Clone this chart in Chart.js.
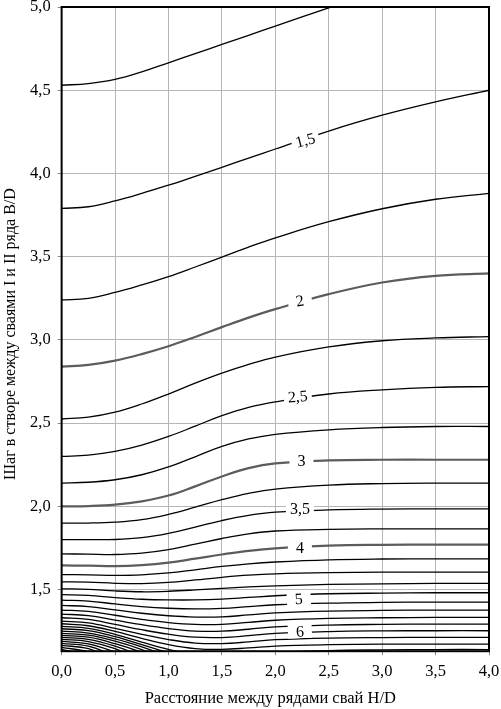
<!DOCTYPE html>
<html><head><meta charset="utf-8">
<script src="https://cdn.jsdelivr.net/npm/chart.js@4/dist/chart.umd.min.js"></script>
<style>html,body{margin:0;padding:0;background:#fff;}canvas{display:block;}</style>
</head><body>
<canvas id="c" width="501" height="709"></canvas>
<script>
// ---- data ----
const xGrid = [0, 0.25, 0.5, 0.75, 1, 1.25, 1.5, 1.75, 2, 2.5, 3, 3.5, 4];
const xTicks = [0, 0.5, 1, 1.5, 2, 2.5, 3, 3.5, 4];
const yTicks = [1.5, 2, 2.5, 3, 3.5, 4, 4.5, 5];

const c125 = [4.53, 4.54, 4.565, 4.61, 4.665, 4.72, 4.775, 4.83, 4.885, 4.995, 5.10];
const c150 = [3.79, 3.80, 3.835, 3.88, 3.93, 3.983, 4.037, 4.092, 4.147, 4.255, 4.35, 4.43, 4.50];
const c175 = [3.24, 3.25, 3.285, 3.33, 3.38, 3.438, 3.498, 3.558, 3.613, 3.71, 3.788, 3.845, 3.88];
const c200 = [2.84, 2.85, 2.876, 2.915, 2.962, 3.018, 3.077, 3.134, 3.185, 3.275, 3.345, 3.385, 3.40];
const c225 = [2.525, 2.536, 2.566, 2.615, 2.675, 2.74, 2.80, 2.853, 2.897, 2.958, 2.995, 3.012, 3.02];
const c250 = [2.30, 2.308, 2.33, 2.368, 2.42, 2.482, 2.545, 2.595, 2.628, 2.675, 2.70, 2.715, 2.72];
const c275 = [2.14, 2.145, 2.16, 2.19, 2.237, 2.298, 2.36, 2.405, 2.433, 2.46, 2.474, 2.48, 2.48];
const c300 = [2.00, 2.002, 2.01, 2.03, 2.065, 2.12, 2.18, 2.23, 2.258, 2.276, 2.28, 2.28, 2.28];
const c325 = [1.90, 1.90, 1.905, 1.92, 1.952, 1.995, 2.04, 2.078, 2.104, 2.128, 2.137, 2.14, 2.14];
const c350 = [1.80, 1.80, 1.801, 1.812, 1.838, 1.876, 1.915, 1.946, 1.965, 1.979, 1.984, 1.985, 1.985];
const c375 = [1.715, 1.713, 1.711, 1.719, 1.74, 1.773, 1.807, 1.835, 1.852, 1.862, 1.865, 1.865, 1.865];
const c400 = [1.645, 1.644, 1.641, 1.647, 1.662, 1.686, 1.711, 1.733, 1.748, 1.764, 1.769, 1.770, 1.770];
const c425 = [1.590, 1.589, 1.586, 1.589, 1.600, 1.619, 1.639, 1.655, 1.666, 1.679, 1.684, 1.685, 1.685];
const c450 = [1.547, 1.545, 1.538, 1.536, 1.543, 1.558, 1.574, 1.587, 1.595, 1.602, 1.605, 1.605, 1.605];
const c475 = [1.505, 1.502, 1.492, 1.487, 1.490, 1.498, 1.508, 1.516, 1.522, 1.531, 1.535, 1.537, 1.537];
const c500 = [1.470, 1.465, 1.452, 1.442, 1.438, 1.438, 1.443, 1.453, 1.463, 1.475, 1.479, 1.481, 1.481];
const c525 = [1.437, 1.431, 1.414, 1.398, 1.388, 1.384, 1.387, 1.398, 1.409, 1.419, 1.423, 1.425, 1.425];
const c550 = [1.405, 1.398, 1.378, 1.358, 1.343, 1.335, 1.336, 1.348, 1.360, 1.371, 1.375, 1.377, 1.377];
const c575 = [1.377, 1.369, 1.346, 1.321, 1.302, 1.291, 1.291, 1.303, 1.316, 1.327, 1.331, 1.333, 1.333];
const c600 = [1.353, 1.344, 1.317, 1.289, 1.266, 1.251, 1.250, 1.262, 1.276, 1.287, 1.291, 1.293, 1.293];
const c625 = [1.331, 1.321, 1.291, 1.259, 1.232, 1.214, 1.212, 1.223, 1.237, 1.248, 1.252, 1.253, 1.253];
const c650 = [1.311, 1.300, 1.267, 1.231, 1.200, 1.179, 1.176, 1.186, 1.199, 1.209, 1.212, 1.213, 1.213];
const c675 = [1.295, 1.283, 1.249, 1.207, 1.170, 1.146, 1.141, 1.150, 1.161, 1.169, 1.172, 1.173, 1.173];
const c700 = [1.279, 1.267, 1.231, 1.185, 1.141, 1.112, 1.106, 1.114, 1.124, 1.134, 1.138, 1.140, 1.140];
const c725 = [1.265, 1.253, 1.217, 1.170, 1.120, 1.070];
const c750 = [1.250, 1.239, 1.204, 1.156, 1.098, 1.040];
const c775 = [1.237, 1.226, 1.190, 1.140, 1.075];
const c800 = [1.225, 1.214, 1.175, 1.122, 1.050];
const c825 = [1.213, 1.201, 1.160, 1.100, 1.030];
const c850 = [1.201, 1.188, 1.145, 1.070];
const c875 = [1.189, 1.174, 1.124, 1.050];
const c900 = [1.177, 1.160, 1.100];
const c925 = [1.165, 1.145, 1.080];
const c950 = [1.153, 1.125, 1.050];
const c975 = [1.141, 1.105, 1.030];

const contourLines = [c125, c150, c175, c200, c225, c250, c275, c300, c325, c350, c375, c400,
  c425, c450, c475, c500, c525, c550, c575, c600, c625, c650, c675, c700,
  c725, c750, c775, c800, c825, c850, c875, c900, c925, c950, c975];
const boldLines = [c200, c300, c400];

const labelText = ['1,5', '2', '2,5', '3', '3,5', '4', '5', '6'];
const labelX = [2.28, 2.23, 2.21, 2.245, 2.23, 2.23, 2.22, 2.23];
const labelY = [4.20, 3.235, 2.66, 2.275, 1.983, 1.752, 1.445, 1.25];
const labelAngle = [-15, -9, -4, 0, 0, 0, -3, -3];

const xTitle = 'Расстояние между рядами свай H/D';
const yTitle = 'Шаг в створе между сваями I и II ряда B/D';

// ---- chart ----
const SERIF = '"Liberation Serif", "Times New Roman", serif';
const fmt = v => Number(v).toFixed(1).replace('.', ',');

const datasets = contourLines.map(ys => {
  const bold = boldLines.includes(ys);
  return {
    data: ys.map((y, i) => ({x: xGrid[i], y: y})),
    showLine: true,
    borderColor: bold ? '#5c5c5c' : '#000',
    borderWidth: bold ? 2.2 : 1.3,
    pointRadius: 0,
    tension: 0.4,
    fill: false
  };
});

const decor = {
  id: 'decor',
  afterDatasetsDraw(chart) {
    const {ctx, chartArea: a, scales: {x, y}} = chart;
    ctx.save();
    ctx.font = '16px ' + SERIF;
    ctx.textAlign = 'center';
    ctx.textBaseline = 'middle';
    labelText.forEach((t, i) => {
      const px = x.getPixelForValue(labelX[i]);
      const py = y.getPixelForValue(labelY[i]);
      ctx.save();
      ctx.translate(px, py);
      ctx.rotate(labelAngle[i] * Math.PI / 180);
      const w = Math.max(ctx.measureText(t).width + 8, 24);
      ctx.fillStyle = '#fff';
      ctx.fillRect(-w / 2, -7, w, 14);
      ctx.fillStyle = '#000';
      ctx.fillText(t, 0, 1);
      ctx.restore();
    });
    ctx.strokeStyle = '#000';
    ctx.lineWidth = 2;
    ctx.strokeRect(a.left, a.top, a.right - a.left, a.bottom - a.top);
    ctx.restore();
  },
  afterDraw(chart) {
    const {ctx, chartArea: a} = chart;
    ctx.save();
    ctx.fillStyle = '#000';
    ctx.font = '16.5px ' + SERIF;
    ctx.textAlign = 'center';
    ctx.textBaseline = 'middle';
    ctx.fillText(xTitle, (a.left + a.right) / 2 - 5, a.bottom + 47);
    ctx.font = '16px ' + SERIF;
    ctx.translate(11, (a.top + a.bottom) / 2 + 5);
    ctx.rotate(-Math.PI / 2);
    ctx.fillText(yTitle, 0, 0);
    ctx.restore();
  }
};

const noEdgePad = s => { s.paddingLeft = 0; s.paddingRight = 0; s.paddingTop = 0; s.paddingBottom = 0; };

new Chart(document.getElementById('c'), {
  type: 'scatter',
  data: {datasets},
  options: {
    responsive: false,
    animation: false,
    devicePixelRatio: 1,
    layout: {padding: {left: 23, bottom: 20, right: 12, top: 7}},
    plugins: {legend: {display: false}, tooltip: {enabled: false}},
    scales: {
      x: {
        type: 'linear', min: 0, max: 4,
        afterBuildTicks: s => { s.ticks = xTicks.map(v => ({value: v})); },
        afterFit: noEdgePad,
        ticks: {callback: fmt, color: '#000', font: {family: SERIF, size: 16.5}, padding: 7, maxRotation: 0},
        grid: {color: '#b5b5b5', lineWidth: 1, tickLength: 4, tickColor: '#888'},
        border: {display: false}
      },
      y: {
        type: 'linear', min: 1.13, max: 5,
        afterBuildTicks: s => { s.ticks = yTicks.map(v => ({value: v})); },
        afterFit: noEdgePad,
        ticks: {callback: fmt, color: '#000', font: {family: SERIF, size: 16.5}, padding: 7},
        grid: {color: '#b5b5b5', lineWidth: 1, tickLength: 4, tickColor: '#888'},
        border: {display: false}
      }
    }
  },
  plugins: [decor]
});
</script>
</body></html>
